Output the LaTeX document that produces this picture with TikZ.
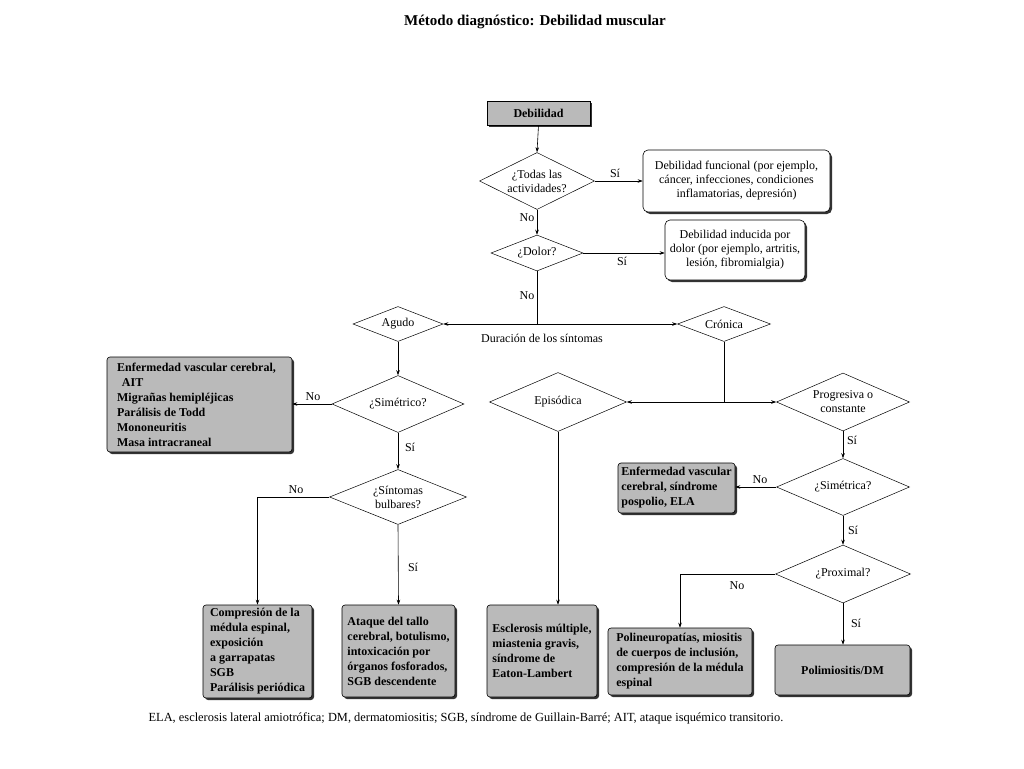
\documentclass[tikz,border=0pt]{standalone}
\usepackage{fontspec}
\setmainfont{Liberation Serif}
\usetikzlibrary{shapes.geometric,shadows,arrows.meta}
\begin{document}
\begin{tikzpicture}[x=1pt,y=-1pt,
  shad/.style={drop shadow={shadow xshift=2pt,shadow yshift=-2pt,fill=black!80,opacity=1}},
  gbox/.style={draw,line width=0.6pt,fill=black!27,rounded corners=3pt,shad,
    font=\bfseries\fontsize{12}{15}\selectfont,align=left,inner xsep=3pt,inner ysep=2pt},
  wbox/.style={draw,line width=0.6pt,fill=white,rounded corners=5pt,shad,
    font=\fontsize{12}{14}\selectfont,align=center,inner sep=2pt},
  dec/.style={draw,diamond,line width=0.5pt,inner sep=0pt,aspect=2,
    font=\fontsize{12}{14}\selectfont,align=center},
  lab/.style={font=\fontsize{12}{14}\selectfont,inner sep=0pt},
  arr/.style={-{Stealth[length=5pt,width=3.5pt]},line width=0.6pt},
  ln/.style={line width=0.6pt}]
\useasboundingbox (0,0) rectangle (1024,768);
\fill[white] (0,0) rectangle (1024,768);

\node[font=\bfseries\fontsize{15}{17}\selectfont] (title) at (535,22) {Método diagnóstico: Debilidad muscular};

\node[draw,line width=0.6pt,fill=black!27,shad,font=\bfseries\fontsize{12}{14}\selectfont,
  minimum width=103pt,minimum height=24pt,inner sep=0pt] (deb) at (538.5,113) {Debilidad};

\node[dec,minimum width=115pt,minimum height=57pt] (d1) at (537,181) {¿Todas las\\actividades?};
\node[wbox,minimum width=187pt,minimum height=62pt] (func) at (736.5,181)
  {Debilidad funcional (por ejemplo,\\cáncer, infecciones, condiciones\\inflamatorias, depresión)};
\node[dec,minimum width=92pt,minimum height=36pt] (d2) at (537,253) {¿Dolor?};
\node[wbox,minimum width=140pt,minimum height=60pt] (dol) at (735,250)
  {Debilidad inducida por\\dolor (por ejemplo, artritis,\\lesión, fibromialgia)};

\node[dec,minimum width=90pt,minimum height=35pt] (ag) at (398,324) {Agudo};
\node[dec,minimum width=93pt,minimum height=35pt] (cr) at (724,324) {Crónica};
\coordinate (sp1) at (537,324);
\node[lab] (dur) at (542,338) {Duración de los síntomas};

\node[dec,minimum width=132pt,minimum height=57pt] (sim) at (398,404) {¿Simétrico?};
\node[gbox,minimum width=185pt,minimum height=95pt] (enf) at (199.5,404.5)
  {Enfermedad vascular cerebral,\hspace*{6pt}\\\hspace*{0.4em}AIT\\Migrañas hemipléjicas\\Parálisis de Todd\\Mononeuritis\\Masa intracraneal};
\node[dec,minimum width=137pt,minimum height=55pt] (sint) at (398,497) {¿Síntomas\\bulbares?};

\node[gbox,minimum width=109pt,minimum height=93pt] (b1) at (257.5,651.5)
  {Compresión de la\\médula espinal,\\exposición\\a garrapatas\\SGB\\Parálisis periódica};
\node[gbox,minimum width=113pt,minimum height=92pt] (b2) at (398.5,651)
  {Ataque del tallo\\cerebral, botulismo,\\intoxicación por\\órganos fosforados,\\SGB descendente};
\node[dec,minimum width=137pt,minimum height=59pt] (epi) at (558,402) {Episódica};
\node[gbox,minimum width=110pt,minimum height=92pt] (b3) at (542,651)
  {\\[-6pt]Esclerosis múltiple,\\miastenia gravis,\\síndrome de\\Eaton-Lambert};

\coordinate (sp2) at (724,402);
\node[dec,minimum width=133pt,minimum height=58pt] (prog) at (843,402) {Progresiva o\\constante};
\node[dec,minimum width=133pt,minimum height=57pt] (sa) at (843,487) {¿Simétrica?};
\node[gbox,minimum width=117pt,minimum height=50pt] (enf2) at (676.5,488)
  {Enfermedad vascular\\cerebral, síndrome\\pospolio, ELA};
\node[dec,minimum width=135pt,minimum height=58pt] (prox) at (843,574) {¿Proximal?};
\node[gbox,minimum width=144pt,minimum height=67pt] (poli) at (680,661.5)
  {Polineuropatías, miositis\\de cuerpos de inclusión,\\compresión de la médula\\espinal};
\node[gbox,align=center,minimum width=135pt,minimum height=50pt] (polim) at (842.5,670) {Polimiositis/DM};

\node[lab,font=\fontsize{12.4}{14}\selectfont] (foot) at (466,718) {ELA, esclerosis lateral amiotrófica; DM, dermatomiositis; SGB, síndrome de Guillain-Barré; AIT, ataque isquémico transitorio.};

% connectors
\draw[arr] (deb.south) -- (d1.north);
\draw[arr] (d1.east) -- (func.west);
\node[lab] at (615,173) {Sí};
\draw[arr] (d1.south) -- (d2.north);
\node[lab] at (527,218) {No};
\draw[arr] (d2.east) -- (dol.west |- d2.east);
\node[lab] at (622,261) {Sí};
\draw[ln] (d2.south) -- (sp1);
\node[lab] at (527,296) {No};
\draw[arr] (sp1) -- (ag.east);
\draw[arr] (sp1) -- (cr.west);

\draw[arr] (ag.south) -- (sim.north);
\draw[arr] (sim.west) -- (enf.east |- sim.west);
\node[lab] at (313,397) {No};
\draw[arr] (sim.south) -- (sint.north);
\node[lab] at (410,447) {Sí};
\draw[arr] (sint.west) -| (b1.north);
\node[lab] at (296,490) {No};
\draw[arr] (sint.south) -- (b2.north);
\node[lab] at (413,567) {Sí};

\draw[ln] (cr.south) -- (sp2);
\draw[arr] (sp2) -- (epi.east);
\draw[arr] (sp2) -- (prog.west);
\draw[arr] (epi.south) -- (epi.south |- b3.north);
\draw[arr] (prog.south) -- (sa.north);
\node[lab] at (852,440) {Sí};
\draw[arr] (sa.west) -- (enf2.east |- sa.west);
\node[lab] at (760,480) {No};
\draw[arr] (sa.south) -- (prox.north);
\node[lab] at (853,530) {Sí};
\draw[arr] (prox.west) -| (poli.north);
\node[lab] at (737,586) {No};
\draw[arr] (prox.south) -- (polim.north -| prox.south);
\node[lab] at (856,623) {Sí};
\end{tikzpicture}
\end{document}
